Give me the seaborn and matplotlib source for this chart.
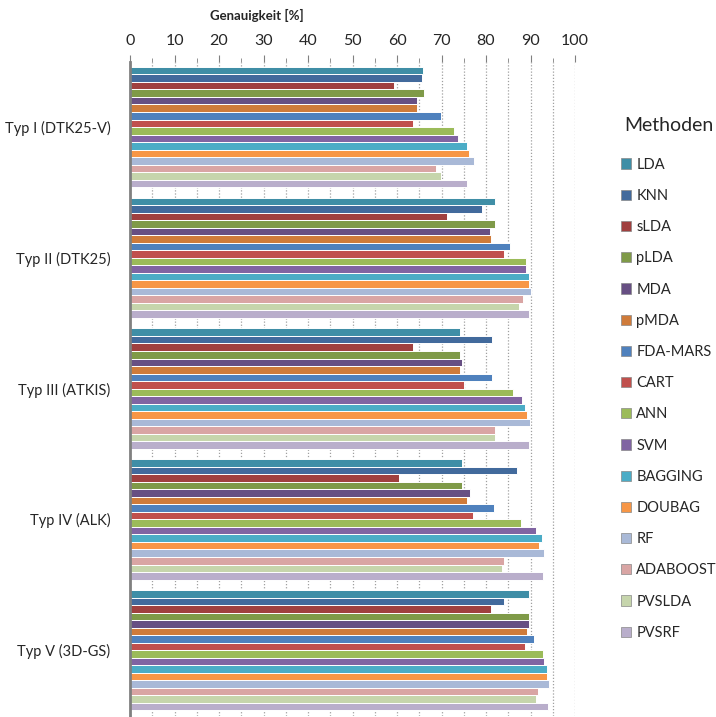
import pandas as pd
import numpy as np
import seaborn as sns
import matplotlib.pyplot as plt

# categories and methods
typen = ["Typ I (DTK25-V)", "Typ II (DTK25)", "Typ III (ATKIS)", "Typ IV (ALK)", "Typ V (3D-GS)"]
methoden = ["LDA", "KNN", "sLDA", "pLDA", "MDA", "pMDA", "FDA-MARS", "CART",
            "ANN", "SVM", "BAGGING", "DOUBAG", "RF", "ADABOOST", "PVSLDA", "PVSRF"]

# accuracy values per type, same order as methoden
typ1 = [65.9, 65.7, 59.3, 66.0, 64.5, 64.5, 69.8, 63.6, 72.7, 73.6, 75.7, 76.2, 77.4, 68.7, 69.8, 75.7]
typ2 = [82.0, 79.1, 71.2, 82.0, 80.9, 81.1, 85.5, 84.1, 89.0, 89.0, 89.7, 89.7, 90.1, 88.4, 87.3, 89.7]
typ3 = [74.2, 81.3, 63.6, 74.2, 74.5, 74.2, 81.3, 75.0, 86.1, 88.1, 88.7, 89.3, 89.9, 82.0, 82.0, 89.6]
typ4 = [74.5, 86.9, 60.4, 74.5, 76.4, 75.7, 81.7, 77.0, 87.8, 91.3, 92.5, 91.9, 93.0, 84.0, 83.7, 92.7]
typ5 = [89.6, 84.0, 81.1, 89.6, 89.6, 89.3, 90.7, 88.7, 92.7, 93.0, 93.6, 93.6, 94.2, 91.6, 91.3, 93.9]

farben = ["#3f8ea6", "#426a9c", "#a0403f", "#7f9a48", "#674f83", "#cf7b3a", "#4f81bd", "#c0504d",
          "#9bbb59", "#8064a2", "#4bacc6", "#f79646", "#a9b9d7", "#d9a5a4", "#c6d5ac", "#b9aecb"]

rows = []
for typ, werte in zip(typen, [typ1, typ2, typ3, typ4, typ5]):
    for m, w in zip(methoden, werte):
        rows.append({"Typ": typ, "Methode": m, "Genauigkeit": w})
df = pd.DataFrame(rows)

sns.set_style("white")
plt.rcParams["font.family"] = ["Lato", "DejaVu Sans"]

fig = plt.figure(figsize=(7.16, 7.17), dpi=100)
ax = fig.add_axes([0.1816, 0.002, 0.6215, 0.912])

sns.barplot(data=df, y="Typ", x="Genauigkeit", hue="Methode", order=typen, hue_order=methoden,
            palette=farben, orient="h", width=0.92, edgecolor="white", linewidth=0.7,
            saturation=1, ax=ax)

ax.set_xlim(0, 100)
ax.set_xticks(range(0, 101, 10))
ax.set_xticks(range(0, 101, 5), minor=True)
ax.xaxis.tick_top()
ax.xaxis.set_label_position("top")
ax.set_xlabel("Genauigkeit [%]", fontsize=9.5, fontweight="bold")
ax.xaxis.set_label_coords(0.285, 1.063)
ax.set_ylabel("")
ax.tick_params(axis="x", which="major", labelsize=11.5, length=5, color="#808080", pad=5)
ax.tick_params(axis="x", which="minor", length=3, color="#808080")
ax.tick_params(axis="y", length=0, labelsize=10.5, pad=14)
ax.grid(axis="x", which="both", linestyle=(0, (1, 1.5)), color="#a0a0a0", linewidth=0.9)
ax.set_axisbelow(True)

for s in ["top", "right", "bottom"]:
    ax.spines[s].set_visible(False)
ax.spines["left"].set_color("#808080")
ax.spines["left"].set_linewidth(2)
ax.spines["left"].set_zorder(5)

handles, labels = ax.get_legend_handles_labels()
for h in handles:
    h.set_edgecolor("#888888")
    h.set_linewidth(0.5)
leg = ax.legend(handles, labels, title="Methoden", loc="upper left",
                bbox_to_anchor=(0.849, 0.855), bbox_transform=fig.transFigure,
                frameon=False, fontsize=10.5, title_fontsize=14,
                handlelength=0.7, handleheight=0.7, handletextpad=0.35, labelspacing=1.18)
leg._legend_box.sep = 17

plt.savefig("out.png", dpi=100)
